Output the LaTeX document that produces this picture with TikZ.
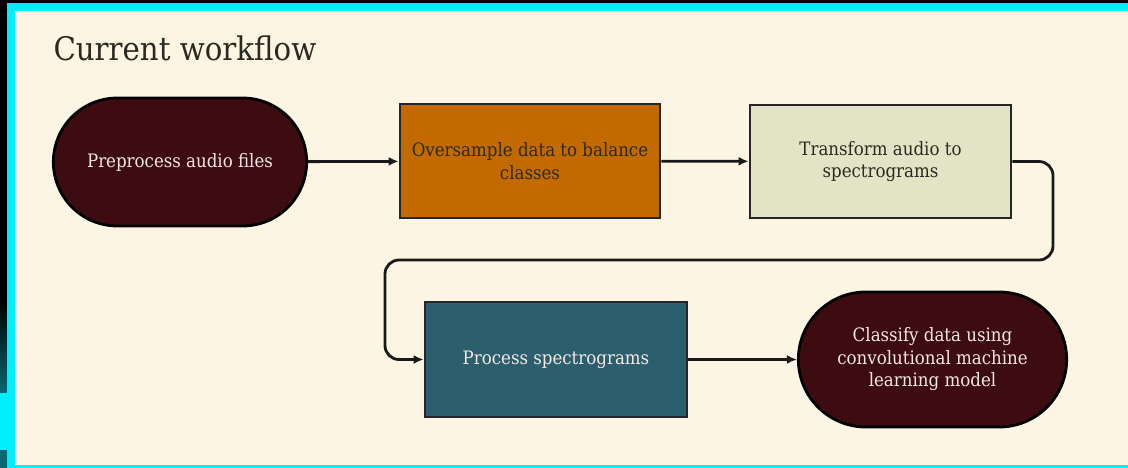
\documentclass[tikz,border=0pt]{standalone}
\usepackage{fontspec}
\setmainfont{DejaVu Serif Condensed}
\usetikzlibrary{shapes.misc,arrows.meta}

\definecolor{cream}{HTML}{FDF5E4}
\definecolor{framecyan}{HTML}{00EEFF}
\definecolor{stripteal}{HTML}{0A6670}
\definecolor{maroon}{HTML}{3D0C11}
\definecolor{ochre}{HTML}{C26A00}
\definecolor{sage}{HTML}{E3E4C5}
\definecolor{slate}{HTML}{2C5F6E}
\definecolor{lighttext}{HTML}{F6E6E4}
\definecolor{inktext}{HTML}{2A2A22}

\tikzset{
  stepfont/.style={font=\fontsize{18.5}{22.5}\selectfont},
  pill/.style={draw=black,line width=2.8pt,rounded rectangle,fill=maroon,
    text=lighttext,stepfont,align=center},
  stepbox/.style={draw=black!85,line width=2.8pt,rectangle,stepfont,align=center},
  flow/.style={line width=2.8pt,-{Latex[length=10pt,width=9pt]},black!90}
}

\begin{document}
\begin{tikzpicture}[x=1pt,y=-1pt]
  \useasboundingbox (0,0) rectangle (1128,468);
  % frame
  \fill[black] (0,0) rectangle (1128,468);
  \shade[top color=black,bottom color=stripteal] (0,300) rectangle (7,393);
  \fill[framecyan] (0,393) rectangle (7,450);
  \fill[stripteal] (0,450) rectangle (7,468);
  \fill[framecyan] (7,3) rectangle (1128,468);
  \fill[cream] (15,11) rectangle (1128,465);

  \node[anchor=base west,text=inktext,font=\fontsize{32.5}{38}\selectfont] (title)
    at (50,61) {Current workflow};

  % steps
  \node[pill,minimum width=260pt,minimum height=128pt] (preprocess) at (180,162)
    {Preprocess audio files};
  \node[stepbox,fill=ochre,text=inktext,minimum width=260pt,minimum height=114pt]
    (oversample) at (530,161) {Oversample data to balance\\classes};
  \node[stepbox,fill=sage,text=inktext,minimum width=261pt,minimum height=113pt]
    (transform) at (880.5,161.5) {Transform audio to\\spectrograms};
  \node[stepbox,fill=slate,text=lighttext,minimum width=262pt,minimum height=115pt]
    (process) at (556,359.5) {Process spectrograms};
  \node[pill,minimum width=275pt,minimum height=135pt] (classify) at (932.5,359.5)
    {Classify data using\\convolutional machine\\learning model};

  % connectors
  \coordinate (bendR) at (1053,260);
  \coordinate (bendL) at (385,260);
  \draw[flow] (preprocess) -- (oversample);
  \draw[flow] (oversample) -- (transform);
  \draw[flow,rounded corners=14pt] (transform.east) -| (bendR) -- (bendL) |- (process.west);
  \draw[flow] (process) -- (classify);
\end{tikzpicture}
\end{document}
